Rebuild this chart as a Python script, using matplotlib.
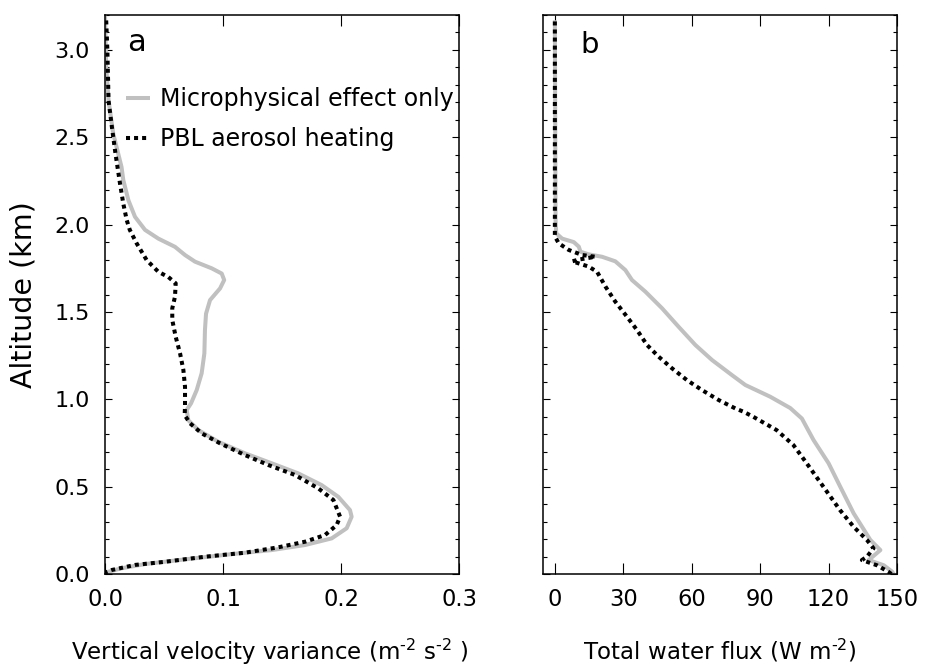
import matplotlib
matplotlib.use("Agg")
import matplotlib.pyplot as plt
from matplotlib.ticker import MultipleLocator, FixedLocator

plt.rcParams['font.family'] = ['DejaVu Sans']
plt.rcParams['mathtext.default'] = 'regular'

# ---- Panel a: vertical velocity variance (m^-2 s^-2) vs altitude (km)
alt_a_micro = [0.0, 0.013, 0.033, 0.057, 0.086, 0.114, 0.137, 0.166, 0.204, 0.262, 0.328,
               0.366, 0.442, 0.509, 0.576, 0.634, 0.691, 0.757, 0.824, 0.88, 0.939, 0.977,
               1.053, 1.149, 1.263, 1.397, 1.49, 1.568, 1.635, 1.683, 1.72, 1.75, 1.788,
               1.826, 1.873, 1.92, 1.97, 2.045, 2.14, 2.255, 2.33, 2.52, 2.71, 2.9, 3.2]
var_micro = [0.0, 0.0028, 0.0141, 0.0339, 0.0706, 0.1074, 0.1412, 0.1695, 0.1921, 0.2048,
             0.209, 0.2076, 0.1977, 0.1836, 0.1638, 0.1412, 0.1186, 0.096, 0.0791, 0.0706,
             0.0692, 0.0729, 0.0777, 0.0819, 0.0842, 0.0847, 0.0856, 0.089, 0.0975, 0.101,
             0.0989, 0.0904, 0.0763, 0.0678, 0.0593, 0.0452, 0.0339, 0.0254, 0.0198, 0.0155,
             0.014, 0.007, 0.003, 0.001, 0.0]

alt_a_pbl = [0.0, 0.008, 0.023, 0.052, 0.07, 0.099, 0.122, 0.153, 0.185, 0.223, 0.28, 0.328,
             0.424, 0.49, 0.567, 0.624, 0.681, 0.748, 0.805, 0.863, 0.91, 0.958, 1.072,
             1.168, 1.263, 1.358, 1.454, 1.521, 1.587, 1.664, 1.70, 1.73, 1.797, 1.893,
             1.97, 2.026, 2.12, 2.236, 2.40, 2.55, 2.71, 3.0, 3.17]
var_pbl = [0.0, 0.0, 0.0057, 0.0254, 0.0508, 0.0847, 0.1186, 0.1469, 0.1695, 0.1864, 0.1963,
           0.1992, 0.1935, 0.1808, 0.161, 0.1384, 0.1186, 0.0975, 0.082, 0.072, 0.0675,
           0.0678, 0.0678, 0.0664, 0.0636, 0.0599, 0.057, 0.057, 0.0593, 0.0599, 0.0537,
           0.0452, 0.0353, 0.0268, 0.021, 0.0184, 0.0155, 0.0127, 0.009, 0.006, 0.003,
           0.002, 0.001]

# ---- Panel b: total water flux (W m^-2) vs altitude (km)
alt_b_micro = [0.0, 0.013, 0.05, 0.08, 0.137, 0.195, 0.347, 0.50, 0.634, 0.767, 0.89, 0.95,
               1.015, 1.082, 1.139, 1.225, 1.311, 1.416, 1.521, 1.616, 1.683, 1.74, 1.79,
               1.816, 1.83, 1.845, 1.874, 1.90, 1.92, 1.95, 2.026, 3.17]
flux_micro = [148.5, 147.9, 144.2, 137.6, 142.7, 138.3, 131.0, 125.1, 120.0, 113.4, 108.3,
              103.2, 94.4, 83.5, 77.6, 68.9, 61.6, 54.2, 47.0, 39.7, 33.8, 30.9, 26.5, 20.7,
              14.8, 11.2, 10.5, 8.3, 3.2, 0.6, 0.3, 0.0]

alt_b_pbl = [0.0, 0.013, 0.05, 0.08, 0.099, 0.147, 0.195, 0.27, 0.366, 0.50, 0.634, 0.738,
             0.824, 0.90, 0.929, 0.948, 0.996, 1.053, 1.11, 1.177, 1.244, 1.311, 1.397,
             1.473, 1.559, 1.645, 1.73, 1.76, 1.79, 1.80, 1.816, 1.826, 1.855, 1.893, 1.933,
             3.17]
flux_pbl = [147.5, 146.2, 141.2, 134.6, 136.8, 139.7, 136.8, 131.0, 125.0, 117.7, 110.4,
            104.6, 97.2, 87.0, 82.7, 79.1, 71.8, 64.5, 57.9, 51.4, 45.5, 40.4, 36.0, 31.6,
            26.5, 22.2, 18.5, 14.8, 7.6, 10.5, 17.8, 12.0, 6.1, 1.7, 0.0, 0.0]

series_labels = ["Microphysical effect only", "PBL aerosol heating"]
panel_letters = ["a", "b"]
xlabels = [r"Vertical velocity variance (m$^{\text{-2}}$ s$^{\text{-2}}$ )",
           r"Total water flux (W m$^{\text{-2}}$)"]
ylabel = "Altitude (km)"
xticks_a = [0.0, 0.1, 0.2, 0.3]
xticklabels_a = ["0.0", "0.1", "0.2", "0.3"]
xticks_b = [0, 30, 60, 90, 120, 150]
yticks = [0.0, 0.5, 1.0, 1.5, 2.0, 2.5, 3.0]
yticklabels = ["0.0", "0.5", "1.0", "1.5", "2.0", "2.5", "3.0"]

gray = "#c0c0c0"
fig = plt.figure(figsize=(9.26, 6.67), dpi=100)
axa = fig.add_axes([0.1134, 0.1394, 0.3823, 0.8381])
axb = fig.add_axes([0.5864, 0.1394, 0.3823, 0.8381])

for ax in (axa, axb):
    for s in ax.spines.values():
        s.set_linewidth(1.1)
    ax.set_ylim(0, 3.2)
    ax.yaxis.set_major_locator(FixedLocator(yticks))
    ax.yaxis.set_minor_locator(MultipleLocator(0.1))
    ax.tick_params(axis='y', which='major', direction='in', left=True, right=True,
                   length=5, width=0.8, pad=11, labelsize=16)
    ax.tick_params(axis='y', which='minor', direction='in', left=True, right=True,
                   length=3, width=0.8)
    ax.tick_params(axis='x', which='major', direction='in', top=True, bottom=True,
                   length=8, width=0.8, pad=10, labelsize=16.3)

lw_gray = 2.9
lw_dot = 2.9

# panel a
axa.plot(var_micro, alt_a_micro, color=gray, lw=lw_gray, solid_capstyle='butt',
         solid_joinstyle='round', label=series_labels[0])
axa.plot(var_pbl, alt_a_pbl, color='black', lw=lw_dot, linestyle=(0, (1, 1)),
         dash_capstyle='butt', label=series_labels[1])
axa.set_xlim(0, 0.3)
axa.set_xticks(xticks_a)
axa.set_xticklabels(xticklabels_a)
axa.set_yticklabels(yticklabels)
axa.set_xlabel(xlabels[0], fontsize=16.5, labelpad=19)
axa.xaxis.label.set_x(0.465)
axa.set_ylabel(ylabel, fontsize=20.5, labelpad=12)
axa.text(0.062, 0.9356, panel_letters[0], transform=axa.transAxes, fontsize=22,
         va='baseline', ha='left')
axa.legend(loc='upper left', bbox_to_anchor=(0.0593, 0.8712), frameon=False,
           borderpad=0, borderaxespad=0, fontsize=17, handlelength=1.02,
           handletextpad=0.42, labelspacing=0.69)

# panel b
axb.plot(flux_micro, alt_b_micro, color=gray, lw=lw_gray, solid_capstyle='butt',
         solid_joinstyle='round')
axb.plot(flux_pbl, alt_b_pbl, color='black', lw=lw_dot, linestyle=(0, (1, 1)),
         dash_capstyle='butt')
axb.set_xlim(-5.2, 150)
axb.set_xticks(xticks_b)
axb.set_yticklabels([])
axb.set_xlabel(xlabels[1], fontsize=16.5, labelpad=19)
axb.text(0.1045, 0.932, panel_letters[1], transform=axb.transAxes, fontsize=21,
         va='baseline', ha='left')

fig.savefig("out.png", dpi=100)
